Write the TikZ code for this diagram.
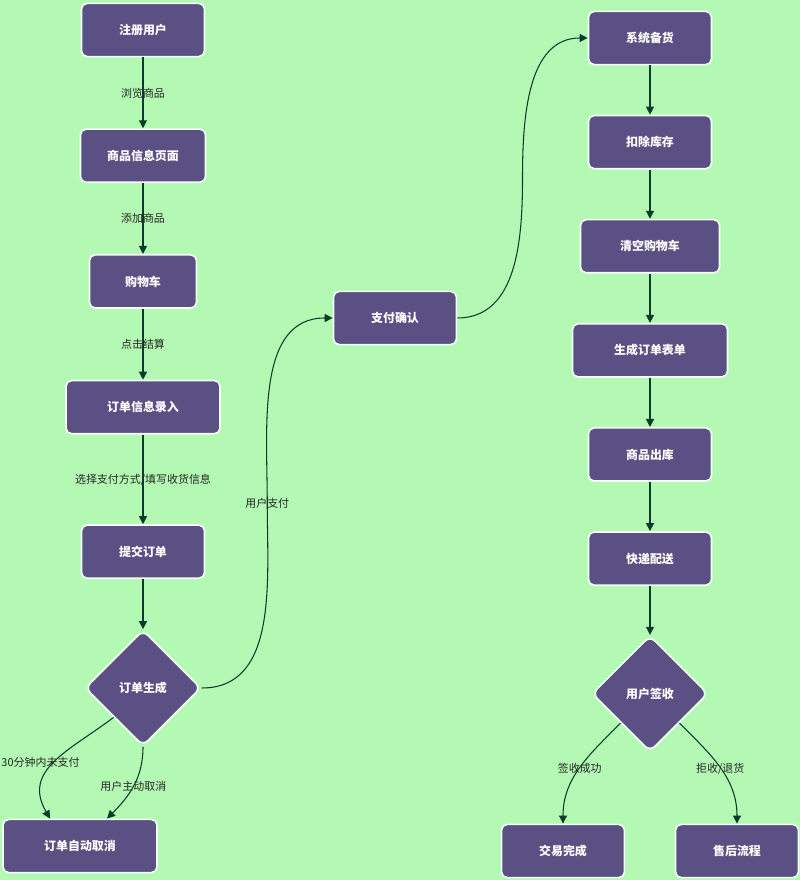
\documentclass[tikz,border=0pt]{standalone}
\usepackage{fontspec}
\setmainfont{Noto Sans CJK SC}
\usetikzlibrary{shapes.geometric, positioning, arrows.meta, calc}
\definecolor{bgGreen}{HTML}{B3F8B3}
\definecolor{boxFill}{HTML}{5A5083}
\definecolor{lineGreen}{HTML}{0D3B2B}

\begin{document}
\begin{tikzpicture}[x=0.025cm, y=0.025cm, node distance=1.77cm,
    >={Triangle[length=2mm,width=2mm]},
    link/.style={draw=lineGreen, line width=0.75pt},
    every edge/.style={link},
    box/.style={rectangle, rounded corners=4pt, fill=boxFill, draw=white!85!bgGreen, line width=1.2pt,
        text=white, font=\bfseries\fontsize{8.5}{10}\selectfont, minimum height=1.33cm,
        minimum width=3.075cm, inner xsep=0.3cm},
    choice/.style={diamond, aspect=1, rounded corners=5pt, minimum size=2.9cm, inner sep=0pt,
        fill=boxFill, draw=white!85!bgGreen, line width=1.2pt, text=white, font=\bfseries\fontsize{8.5}{10}\selectfont},
    lbl/.style={font=\fontsize{7.8}{9}\selectfont, text=black!85}]
    \fill[bgGreen] (0,0) rectangle (800,880);
    \useasboundingbox (0,0) rectangle (800,880);

    % order side
    \node[box] (reg) at (143,850) {注册用户};
    \node[box, minimum width=3.125cm] (info) [below=of reg] {商品信息页面};
    \node[box, minimum width=2.675cm] (cart) [below=of info] {购物车};
    \node[box, minimum width=3.85cm] (entry) [below=of cart] {订单信息录入};
    \node[box] (submit) [below=2.24cm of entry] {提交订单};
    \node[choice] (made) [below=1.25cm of submit] {订单生成};
    \node[box, minimum width=3.85cm] (cancel) at (80,34) {订单自动取消};
    \node[box] (pay) at (395,562) {支付确认};

    % delivery side
    \node[box] (stock) at (650,842) {系统备货};
    \node[box] (deduct) [below=1.23cm of stock] {扣除库存};
    \node[box, minimum width=3.475cm] (clear) [below=1.23cm of deduct] {清空购物车};
    \node[box, minimum width=3.875cm] (form) [below=1.23cm of clear] {生成订单表单};
    \node[box] (out) [below=1.23cm of form] {商品出库};
    \node[box] (ship) [below=1.23cm of out] {快递配送};
    \node[choice] (sign) [below=1.22cm of ship] {用户签收};
    \node[box] (done) at (563,29) {交易完成};
    \node[box] (after) at (737,29) {售后流程};

    \path[->] (reg) edge node[lbl] {浏览商品} (info);
    \path[->] (info) edge node[lbl] {添加商品} (cart);
    \path[->] (cart) edge node[lbl] {点击结算} (entry);
    \path[->] (entry) edge node[lbl] {选择支付方式/填写收货信息} (submit);
    \path[->] (submit) edge (made);
    \path[->] (made.south west) edge[out=-143, in=120, looseness=1.2] node[lbl, xshift=-0.35cm] {30分钟内未支付} ([xshift=-0.75cm]cancel.north);
    \path[->] (made.south) edge[out=-90, in=45] node[lbl] {用户主动取消} ([xshift=0.675cm]cancel.north);
    \draw[link, ->] (made.east) to[out=0, in=-90] ($(made.east)!.5!(pay.west)$) node[lbl] {用户支付}
        to[out=90, in=180] (pay.west);
    \draw[link, ->] (pay.east) to[out=0, in=-90] ($(pay.east)!.5!(stock.west)$)
        to[out=90, in=180] (stock.west);

    \path[->] (stock) edge (deduct);
    \path[->] (deduct) edge (clear);
    \path[->] (clear) edge (form);
    \path[->] (form) edge (out);
    \path[->] (out) edge (ship);
    \path[->] (ship) edge (sign);
    \path[->] (sign.south west) edge[out=-135, in=90] node[lbl] {签收成功} (done.north);
    \path[->] (sign.south east) edge[out=-45, in=90] node[lbl] {拒收/退货} (after.north);
\end{tikzpicture}
\end{document}
